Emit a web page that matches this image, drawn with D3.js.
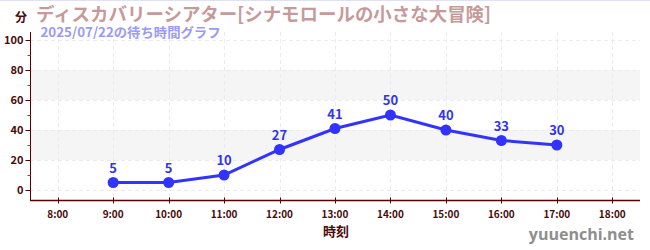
<!DOCTYPE html>
<html><head><meta charset="utf-8">
<script src="https://cdn.jsdelivr.net/npm/d3@7"></script>
<style>body{margin:0;background:#fff;}svg{display:block;font-family:"Noto Sans CJK JP","Noto Sans",sans-serif;}</style>
</head><body>
<script>
const hours = [9,10,11,12,13,14,15,16,17];
const waits = [5,5,10,27,41,50,40,33,30];
const xTicks = [8,9,10,11,12,13,14,15,16,17,18];
const yTicks = [0,20,40,60,80,100];
const bands = [[20,40],[60,80]];
const title = "ディスカバリーシアター[シナモロールの小さな大冒険]";
const subtitle = "2025/07/22の待ち時間グラフ";

const W=650,H=250;
const svg=d3.select("body").append("svg").attr("width",W).attr("height",H);
const x=d3.scaleLinear().domain([7.5,18.5]).range([30,640]);
const y=d3.scaleLinear().domain([0,100]).range([190,40]);
const plotTop=32, plotBottom=200;

svg.append("line").attr("x1",0).attr("x2",W).attr("y1",0.5).attr("y2",0.5).attr("stroke","#e0e0f6").attr("stroke-width",1);

bands.forEach(b=>svg.append("rect").attr("x",30).attr("width",610).attr("y",y(b[1])).attr("height",y(b[0])-y(b[1])).attr("fill","#f5f5f5"));

// grid
svg.append("g").selectAll("line").data(xTicks).join("line")
 .attr("x1",d=>Math.round(x(d))+0.5).attr("x2",d=>Math.round(x(d))+0.5).attr("y1",plotTop).attr("y2",plotBottom)
 .attr("stroke","#ebebeb").attr("stroke-dasharray","4,3");
svg.append("g").selectAll("line").data(yTicks).join("line")
 .attr("x1",30).attr("x2",640).attr("y1",d=>Math.round(y(d))+0.5).attr("y2",d=>Math.round(y(d))+0.5)
 .attr("stroke","#ebebeb").attr("stroke-dasharray","4,3");

const axisColor="#5a0000";
// y axis
const ya=svg.append("g").attr("transform","translate(30.5,0)");
ya.append("line").attr("y1",plotTop).attr("y2",plotBottom).attr("stroke",axisColor);
ya.selectAll(".mj").data(yTicks).join("line").attr("class","mj").attr("x1",-5).attr("x2",0).attr("y1",d=>Math.round(y(d))+0.5).attr("y2",d=>Math.round(y(d))+0.5).attr("stroke",axisColor);
ya.selectAll(".mn").data([10,30,50,70,90]).join("line").attr("class","mn").attr("x1",-3).attr("x2",0).attr("y1",d=>Math.round(y(d))+0.5).attr("y2",d=>Math.round(y(d))+0.5).attr("stroke","#dd2222");
ya.selectAll("text").data(yTicks).join("text").attr("x",-7).attr("y",d=>y(d)).attr("dy","0.35em").attr("text-anchor","end")
 .attr("font-size",11).attr("font-weight","bold").attr("fill","#4a0a0a").text(d=>d);

// x axis
const xa=svg.append("g").attr("transform",`translate(0,${plotBottom+0.5})`);
xa.append("line").attr("x1",30).attr("x2",640).attr("stroke",axisColor).attr("stroke-width",1.5);
xa.selectAll("line.t").data(xTicks).join("line").attr("class","t").attr("x1",d=>Math.round(x(d))+0.5).attr("x2",d=>Math.round(x(d))+0.5).attr("y1",-3).attr("y2",3).attr("stroke",axisColor);
xa.selectAll("text").data(xTicks).join("text").attr("x",d=>x(d)).attr("y",17).attr("text-anchor","middle")
 .attr("font-size",10).attr("font-weight","bold").attr("fill","#4a0a0a").text(d=>d+":00");

svg.append("text").attr("x",336).attr("y",236).attr("text-anchor","middle").attr("font-size",13).attr("font-weight","bold").attr("fill","#4a0a0a").text("時刻");
svg.append("text").attr("x",21).attr("y",22).attr("text-anchor","middle").attr("font-size",12).attr("font-weight","bold").attr("fill","#4a0a0a").text("分");

svg.append("text").attr("x",36).attr("y",20.5).attr("font-size",18.5).attr("font-weight","bold").attr("fill","#c79a9a")
 .attr("textLength",455).attr("lengthAdjust","spacingAndGlyphs").text(title);
svg.append("text").attr("x",40.5).attr("y",37).attr("font-size",13).attr("font-weight","bold").attr("fill","#9a9af5")
 .attr("textLength",180).attr("lengthAdjust","spacingAndGlyphs").text(subtitle);

svg.append("text").attr("x",634).attr("y",240).attr("text-anchor","end").attr("font-size",16).attr("font-weight","bold").attr("fill","#8e8e8e").attr("font-family","'Open Sans', sans-serif").text("yuuenchi.net");

// line
const pts=hours.map((h,i)=>[h,waits[i]]);
svg.append("path").datum(pts).attr("fill","none").attr("stroke","#3333ff").attr("stroke-width",3)
 .attr("d",d3.line().x(d=>x(d[0])).y(d=>y(d[1])));
svg.append("g").selectAll("circle").data(pts).join("circle").attr("cx",d=>x(d[0])).attr("cy",d=>y(d[1])).attr("r",5.5).attr("fill","#3333ff");
svg.append("g").selectAll("text").data(pts).join("text").attr("x",d=>x(d[0])).attr("y",d=>y(d[1])-10).attr("text-anchor","middle")
 .attr("font-size",13).attr("font-weight","bold").attr("fill","#3333ee").text(d=>d[1]);
</script>
</body></html>
